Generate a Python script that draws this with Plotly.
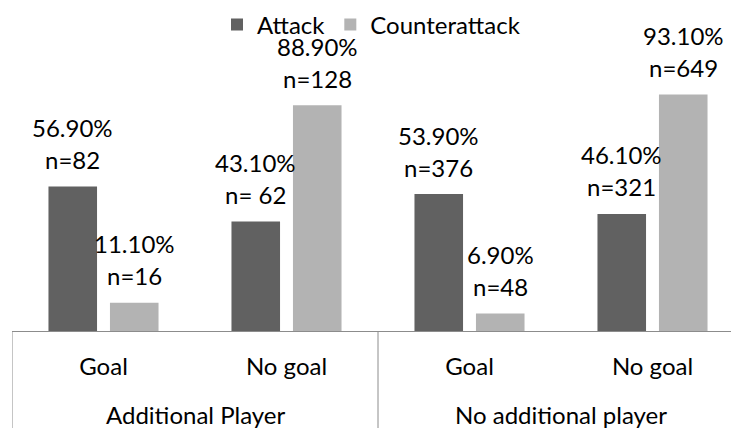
import plotly.graph_objects as go

categories = ["Goal", "No goal", "Goal", "No goal"]
groups = ["Additional Player", "No additional player"]
group_of_category = [0, 0, 1, 1]
attack_pct = [56.9, 43.1, 53.9, 46.1]
counter_pct = [11.1, 88.9, 6.9, 93.1]
attack_n = ["n=82", "n= 62", "n=376", "n=321"]
counter_n = ["n=16", "n=128", "n=48", "n=649"]
series_names = ["Attack", "Counterattack"]

FONT = "Lato, Open Sans, DejaVu Sans, sans-serif"
FS = 24
DARK = "#616161"
LIGHT = "#b3b3b3"
AXIS = "#8c8c8c"
BARGAP = 0.328
BARGROUPGAP = 0.21

xpos = list(range(len(categories)))

fig = go.Figure()
fig.add_trace(go.Bar(x=xpos, y=attack_pct, name=series_names[0],
                     marker=dict(color=DARK, line=dict(width=0))))
fig.add_trace(go.Bar(x=xpos, y=counter_pct, name=series_names[1],
                     marker=dict(color=LIGHT, line=dict(width=0))))

# data labels above each bar (two lines, Excel-like spacing)
off = (1 - BARGAP) / 4.0
annotations = []
for vals, ns, sgn in ((attack_pct, attack_n, -1), (counter_pct, counter_n, 1)):
    for i, (v, n) in enumerate(zip(vals, ns)):
        for txt, shift in ((n, 27), (f"{v:.2f}%", 59)):
            annotations.append(dict(
                x=i + sgn * off, y=v, xref="x", yref="y",
                text=txt, showarrow=False,
                yanchor="middle", xanchor="center", yshift=shift,
                font=dict(family=FONT, size=FS, color="#000000")))

# group labels under the category labels
for g, name in enumerate(groups):
    idx = [i for i, gg in enumerate(group_of_category) if gg == g]
    annotations.append(dict(
        x=(idx[0] + idx[-1]) / 2.0, y=0, xref="x", yref="paper",
        text=name, showarrow=False, yanchor="middle", xanchor="center",
        yshift=-83, font=dict(family=FONT, size=FS, color="#000000")))

shapes = []
for b in (-0.5, 1.5):
    shapes.append(dict(type="line", xref="x", yref="paper",
                       x0=b, x1=b, y0=0, y1=-97 / 254.0,
                       line=dict(color=AXIS, width=1)))

fig.update_layout(
    width=731, height=428,
    margin=dict(l=12, r=0, t=77, b=97, autoexpand=False),
    paper_bgcolor="white", plot_bgcolor="white",
    barmode="group", bargap=BARGAP, bargroupgap=BARGROUPGAP,
    font=dict(family=FONT, size=FS, color="#000000"),
    showlegend=True,
    legend=dict(orientation="h", x=0.5, xanchor="center", y=1.205,
                yanchor="middle", font=dict(family=FONT, size=FS),
                bgcolor="rgba(0,0,0,0)", itemclick=False),
    annotations=annotations,
    shapes=shapes,
    xaxis=dict(tickmode="array", tickvals=xpos, ticktext=categories,
               range=[-0.5, -0.5 + 719 / 183.0], showgrid=False,
               zeroline=False, showline=True, linecolor=AXIS, linewidth=1,
               ticks="", ticklabelstandoff=14,
               tickfont=dict(family=FONT, size=FS, color="#000000")),
    yaxis=dict(range=[0, 100], visible=False, showgrid=False,
               zeroline=False),
)

fig.write_html("out.html")
